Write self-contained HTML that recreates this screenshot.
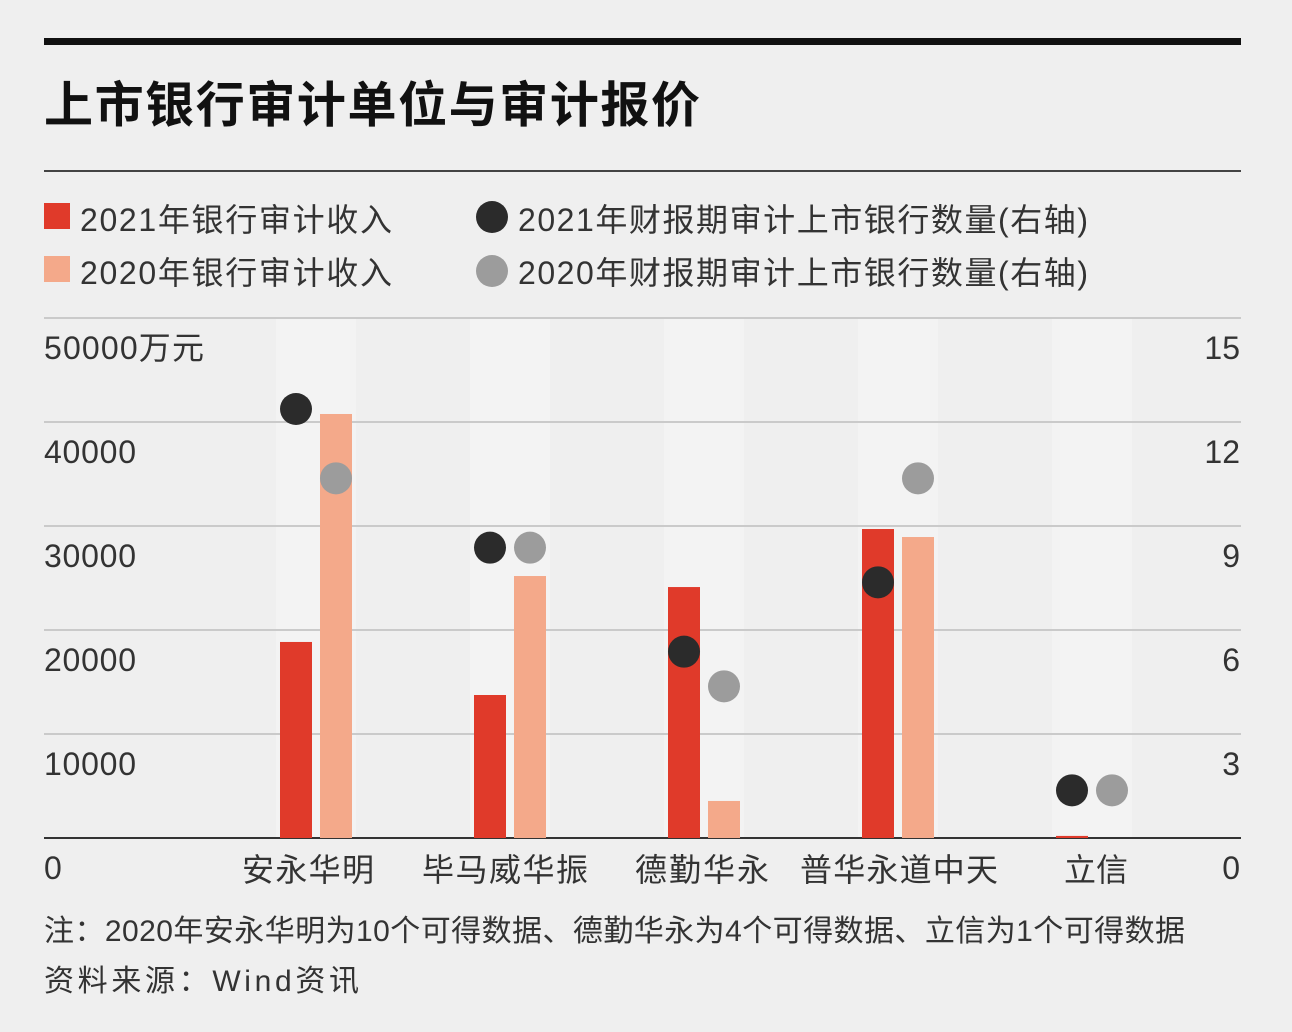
<!DOCTYPE html>
<html><head><meta charset="utf-8">
<style>
html,body{margin:0;padding:0;background:#efefef;}
body{width:1292px;height:1032px;position:relative;overflow:hidden;font-family:"Liberation Sans","Noto Sans CJK SC",sans-serif;color:#2a2a2a;}
svg{position:absolute;left:0;top:0;}
</style></head><body>
<svg width="1292" height="1032" id="chart" font-family="Liberation Sans, Noto Sans CJK SC, sans-serif">
<rect x="44" y="38" width="1197" height="7" fill="#111"/>
<text x="44" y="122" font-size="49" font-weight="bold" fill="#111" textLength="656">上市银行审计单位与审计报价</text>
<rect x="44" y="170" width="1197" height="2" fill="#444"/>
<g font-size="32" fill="#333">
<g><rect x="44" y="203" width="26" height="26" fill="#e03a2a"/><text x="80" y="231" textLength="312">2021年银行审计收入</text></g>
<g><rect x="44" y="256" width="26" height="26" fill="#f4a98a"/><text x="80" y="284" textLength="312">2020年银行审计收入</text></g>
<g><circle cx="492" cy="217" r="16" fill="#2b2b2b"/><text x="518" y="231" textLength="570">2021年财报期审计上市银行数量(右轴)</text></g>
<g><circle cx="492" cy="271" r="16" fill="#9c9c9c"/><text x="518" y="284" textLength="570">2020年财报期审计上市银行数量(右轴)</text></g>
</g>
<g id="grid"></g><g id="bars"></g><g id="dots"></g><g id="labels" font-size="32" fill="#333"></g>
<text x="44" y="941" font-size="30" fill="#333" textLength="1141">注：2020年安永华明为10个可得数据、德勤华永为4个可得数据、立信为1个可得数据</text>
<text x="44" y="991" font-size="30" fill="#333" textLength="315">资料来源：Wind资讯</text>
</svg>
<script>
const categories=["安永华明","毕马威华振","德勤华永","普华永道中天","立信"];
const rev2021=[18850,13750,24130,29710,200];
const rev2020=[40770,25190,3560,28940,0];
const count2021=[12,8,5,7,1];
const count2020=[10,8,4,10,1];
const leftTicks=[0,10000,20000,30000,40000,50000];
const rightTicks=[0,3,6,9,12,15];
const labelWidths=[132,166,134,198,64];
const NS="http://www.w3.org/2000/svg";
const y0=838,yTop=318;
const yL=v=>y0-(v/50000)*(y0-yTop);
const yR=v=>y0-(v/15)*(y0-yTop)-13;
const yRt=v=>y0-(v/15)*(y0-yTop);
const cx=i=>316+i*194;
function mk(tag,attrs,parent){const e=document.createElementNS(NS,tag);for(const k in attrs)e.setAttribute(k,attrs[k]);document.getElementById(parent).appendChild(e);return e;}
categories.forEach((c,i)=>{
 const b=mk('rect',{x:cx(i)-40,y:yTop,width:80,height:y0-yTop,fill:'#f3f3f3'},'grid');
 
 
});
leftTicks.forEach((t,i)=>{
 const y=yL(t);
 const l=mk('line',{x1:44,x2:1241,y1:y,y2:y,stroke:i==0?'#333':'#bdbdbd','stroke-width':i==0?2:1.5},'grid');
 
 
 const tx=mk('text',{x:44,y:y+41},'labels');
 tx.textContent=t+(i==leftTicks.length-1?'万元':'');
 if(t>0) tx.setAttribute('textLength', i==leftTicks.length-1?160:92);
 
 
});
rightTicks.forEach(t=>{
 const tx=mk('text',{x:1240,y:yRt(t)+41,'text-anchor':'end'},'labels');
 tx.textContent=t;
 
 
});
categories.forEach((c,i)=>{
 const r1=mk('rect',{x:cx(i)-36,y:yL(rev2021[i]),width:32,height:y0-yL(rev2021[i]),fill:'#e03a2a'},'bars');
 
 
 const r2=mk('rect',{x:cx(i)+4,y:yL(rev2020[i]),width:32,height:y0-yL(rev2020[i]),fill:'#f4a98a'},'bars');
 
 
 const d2=mk('circle',{cx:cx(i)+20,cy:yR(count2020[i]),r:16,fill:'#9c9c9c'},'dots');
 
 
 const d1=mk('circle',{cx:cx(i)-20,cy:yR(count2021[i]),r:16,fill:'#2b2b2b'},'dots');
 
 
 const tx=mk('text',{x:308+i*197-labelWidths[i]/2,y:881,textLength:labelWidths[i]},'labels');
 tx.textContent=c;
 
 
});
</script>
</body></html>
